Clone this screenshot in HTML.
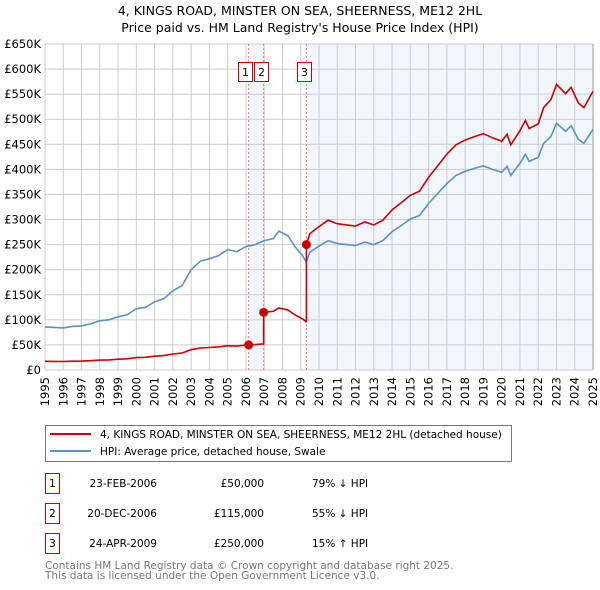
<!DOCTYPE html>
<html><head><meta charset="utf-8"><style>
body{margin:0;background:#fff;font-family:"DejaVu Sans","Liberation Sans",sans-serif;}
svg{display:block}
</style></head><body>
<svg id="c" width="600" height="590" viewBox="0 0 600 590" xmlns="http://www.w3.org/2000/svg" font-family="DejaVu Sans, Liberation Sans, sans-serif">
<text x="300" y="15" text-anchor="middle" font-size="12.5" fill="#000">4, KINGS ROAD, MINSTER ON SEA, SHEERNESS, ME12 2HL</text>
<text x="300" y="32" text-anchor="middle" font-size="12.5" fill="#000">Price paid vs. HM Land Registry's House Price Index (HPI)</text>
<g id="plot"></g>
<g>
<rect x="45.5" y="425.5" width="466" height="36" fill="#fff" stroke="#777"/>
<line x1="50" y1="434" x2="91" y2="434" stroke="#cc0000" stroke-width="2"/>
<text x="100" y="438" font-size="10.5">4, KINGS ROAD, MINSTER ON SEA, SHEERNESS, ME12 2HL (detached house)</text>
<line x1="50" y1="451" x2="91" y2="451" stroke="#5b8fd0" stroke-width="2"/>
<text x="100" y="455" font-size="10.5">HPI: Average price, detached house, Swale</text>
</g>
<g id="table"></g>
<text x="45" y="569" font-size="10.5" fill="#777">Contains HM Land Registry data © Crown copyright and database right 2025.</text>
<text x="45" y="579" font-size="10.5" fill="#777">This data is licensed under the Open Government Licence v3.0.</text>
</svg>
<script>
const yearTicks=[1995,1996,1997,1998,1999,2000,2001,2002,2003,2004,2005,2006,2007,2008,2009,2010,2011,2012,2013,2014,2015,2016,2017,2018,2019,2020,2021,2022,2023,2024,2025];
const priceTicks=[0,50000,100000,150000,200000,250000,300000,350000,400000,450000,500000,550000,600000,650000];
const priceTickLabels=["£0","£50K","£100K","£150K","£200K","£250K","£300K","£350K","£400K","£450K","£500K","£550K","£600K","£650K"];
const hpiDates=[1995,1995.5,1996,1996.5,1997,1997.5,1998,1998.5,1999,1999.5,2000,2000.5,2001,2001.5,2002,2002.5,2003,2003.5,2004,2004.5,2005,2005.5,2006,2006.5,2007,2007.5,2007.8,2008.3,2008.7,2009.1,2009.3,2009.5,2010,2010.5,2011,2011.5,2012,2012.5,2013,2013.5,2014,2014.5,2015,2015.5,2016,2016.5,2017,2017.5,2018,2018.5,2019,2019.5,2020,2020.3,2020.5,2021,2021.3,2021.5,2022,2022.3,2022.7,2023,2023.5,2023.8,2024.2,2024.5,2025];
const hpiValues=[86000,85000,84000,87000,88000,92000,98000,100000,106000,110000,122000,125000,136000,142000,158000,168000,200000,217000,222000,228000,240000,236000,246000,250000,258000,262000,277000,268000,245000,228000,215000,235000,247000,258000,252000,250000,248000,255000,250000,258000,276000,288000,301000,308000,332000,352000,372000,388000,396000,402000,407000,400000,394000,406000,388000,412000,430000,416000,424000,452000,466000,492000,476000,487000,460000,452000,480000];
const saleLabels=["1","2","3"];
const saleDates=[2006.15,2006.97,2009.31];
const salePrices=[50000,115000,250000];
const saleDateText=["23-FEB-2006","20-DEC-2006","24-APR-2009"];
const salePriceText=["£50,000","£115,000","£250,000"];
const saleDiffText=["79% ↓ HPI","55% ↓ HPI","15% ↑ HPI"];

const NS="http://www.w3.org/2000/svg";
const X0=45,X1=593,Y0=370,Y1=44;
const xs=d=>X0+(d-1995)/(2025-1995)*(X1-X0);
const ys=v=>Y0-v/650000*(Y0-Y1);
function mk(tag,at,parent){const e=document.createElementNS(NS,tag);for(const k in at)e.setAttribute(k,at[k]);parent.appendChild(e);return e;}
const P=document.getElementById('plot');
function hpiAt(d){for(let i=0;i<hpiDates.length-1;i++){if(d<=hpiDates[i+1]){const t=(d-hpiDates[i])/(hpiDates[i+1]-hpiDates[i]);return hpiValues[i]+t*(hpiValues[i+1]-hpiValues[i]);}}return hpiValues[hpiValues.length-1];}
let s1=mk('rect',{x:xs(saleDates[0]),y:Y1,width:xs(saleDates[1])-xs(saleDates[0]),height:Y0-Y1,fill:'#f1f5fc'},P);


let s2=mk('rect',{x:xs(saleDates[2]),y:Y1,width:X1-xs(saleDates[2]),height:Y0-Y1,fill:'#f1f5fc'},P);


yearTicks.forEach(y=>{const l=mk('line',{x1:xs(y),x2:xs(y),y1:Y1,y2:Y0,stroke:'#cccccc','stroke-width':1},P);


const t=mk('text',{x:0,y:0,'font-size':11.5,'text-anchor':'end',transform:`translate(${xs(y)+4},377) rotate(-90)`},P);t.textContent=y;

});
priceTicks.forEach((v,i)=>{const l=mk('line',{x1:X0,x2:X1,y1:ys(v),y2:ys(v),stroke:'#cccccc','stroke-width':1},P);


const t=mk('text',{x:41,y:ys(v)+4,'font-size':11.5,'text-anchor':'end'},P);t.textContent=priceTickLabels[i];

});
const rb=mk('line',{x1:X1,x2:X1,y1:Y1,y2:Y0,stroke:'#999','stroke-width':1},P);


saleDates.forEach(d=>{const l=mk('line',{x1:xs(d),x2:xs(d),y1:Y1,y2:Y0,stroke:'#f07070','stroke-width':1,'stroke-dasharray':'2,2'},P);

});
const hp=hpiDates.map((d,i)=>xs(d).toFixed(1)+','+ys(hpiValues[i]).toFixed(1)).join(' ');
const hl=mk('polyline',{points:hp,fill:'none',stroke:'#5b8fd0','stroke-width':1.6},P);


const pts=[];
function seg(a,b,si){const base=hpiAt(saleDates[si]);const ds=[a,...hpiDates.filter(d=>d>a&&d<b),b];ds.forEach(d=>pts.push(xs(d).toFixed(1)+','+ys(salePrices[si]*hpiAt(d)/base).toFixed(1)));}
(function(){const base=hpiAt(saleDates[0]);hpiDates.filter(d=>d<saleDates[0]).forEach(d=>pts.push(xs(d).toFixed(1)+','+ys(salePrices[0]*hpiAt(d)/base).toFixed(1)));})();
seg(saleDates[0],saleDates[1],0);seg(saleDates[1],saleDates[2],1);seg(saleDates[2],2025,2);
const pl=mk('polyline',{points:pts.join(' '),fill:'none',stroke:'#cc0000','stroke-width':1.6},P);


saleDates.forEach((d,i)=>{const c=mk('circle',{cx:xs(d),cy:ys(salePrices[i]),r:4.5,fill:'#cc0000'},P);

});
const boxX=[238,254,297];
saleLabels.forEach((s,i)=>{const r=mk('rect',{x:boxX[i]+0.5,y:62.5,width:14,height:19,fill:'#fff',stroke:'#cc0000'},P);


const t=mk('text',{x:boxX[i]+7.5,y:76,'font-size':11,'text-anchor':'middle'},P);t.textContent=s;

});
const T=document.getElementById('table');
saleLabels.forEach((s,i)=>{const cy=483+i*30;
const r=mk('rect',{x:45.5,y:cy-9.5,width:14,height:20,fill:'#fff',stroke:'#cc0000'},T);


const items=[[52.5,'middle',s,'table-row-number'],[157,'end',saleDateText[i],'table-row-date'],[264,'end',salePriceText[i],'table-row-price'],[312,'start',saleDiffText[i],'table-row-hpi-diff']];
items.forEach(it=>{const t=mk('text',{x:it[0],y:cy+4,'font-size':10.5,'text-anchor':it[1]},T);t.textContent=it[2];

});});
</script>
</body></html>
